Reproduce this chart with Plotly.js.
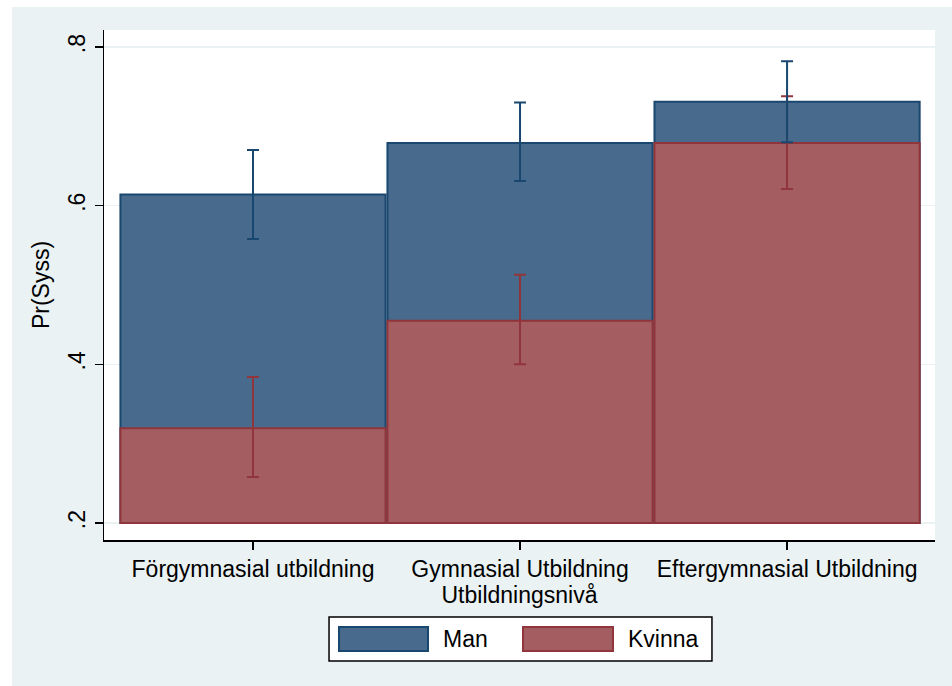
<!DOCTYPE html>
<html>
<head>
<meta charset="utf-8">
<script src="https://cdn.plot.ly/plotly-3.0.1.min.js"></script>
<style>
  html, body { margin: 0; padding: 0; background: #ffffff; }
  #chart { position: absolute; left: 12px; top: 7px; width: 940px; height: 679px; }
</style>
</head>
<body>
<div id="chart"></div>
<script>
// ---- data ----
const categories = ['Förgymnasial utbildning', 'Gymnasial Utbildning', 'Eftergymnasial Utbildning'];
const catPos = [1, 2, 3];
const manValues = [0.614, 0.679, 0.731];
const manLow = [0.558, 0.631, 0.680];
const manHigh = [0.670, 0.730, 0.782];
const kvinnaValues = [0.3195, 0.455, 0.679];
const kvinnaLow = [0.258, 0.400, 0.621];
const kvinnaHigh = [0.384, 0.513, 0.738];
const baseValue = 0.2;
const yTickVals = [0.2, 0.4, 0.6, 0.8];
const yTickText = ['.2', '.4', '.6', '.8'];
const seriesNames = ['Man', 'Kvinna'];

const navy = '#1a476f', navyFill = '#486a8c';
const maroon = '#90353b', maroonFill = '#a45e61';
const fontFam = '"Liberation Sans", Arial, sans-serif';
const fs = 23;

function barTrace(vals, name, fill, line) {
  return {
    type: 'bar', name: name, x: catPos,
    y: vals.map(v => v - baseValue), base: baseValue,
    width: 0.993,
    marker: { color: fill, line: { color: line, width: 2 } },
    hoverinfo: 'skip', showlegend: false
  };
}
function errTrace(vals, lo, hi, name, color) {
  return {
    type: 'scatter', mode: 'markers', name: name, x: catPos, y: vals,
    marker: { size: 1, opacity: 0 },
    error_y: {
      type: 'data', symmetric: false,
      array: hi.map((h, i) => h - vals[i]),
      arrayminus: lo.map((l, i) => vals[i] - l),
      color: color, thickness: 2, width: 6
    },
    hoverinfo: 'skip', showlegend: false
  };
}

const data = [
  barTrace(manValues, seriesNames[0], navyFill, navy),
  barTrace(kvinnaValues, seriesNames[1], maroonFill, maroon),
  errTrace(kvinnaValues, kvinnaLow, kvinnaHigh, seriesNames[1], maroon),
  errTrace(manValues, manLow, manHigh, seriesNames[0], navy)
];

// legend drawn with shapes (paper coords)
const legY0 = -0.2176, legY1 = -0.1706;
const layout = {
  width: 940, height: 679,
  margin: { l: 92, r: 17, t: 23, b: 146 },
  paper_bgcolor: '#eaf2f3', plot_bgcolor: '#ffffff',
  barmode: 'overlay',
  showlegend: false,
  font: { family: fontFam, size: fs, color: '#000000' },
  xaxis: {
    range: [0.442, 3.554], tickvals: catPos, ticktext: categories,
    ticks: 'outside', ticklen: 8, tickwidth: 1.5, tickcolor: '#000000',
    showline: true, linecolor: '#000000', linewidth: 1.5,
    showgrid: false, zeroline: false, fixedrange: true,
    tickfont: { family: fontFam, size: fs },
    title: { text: 'Utbildningsnivå', font: { family: fontFam, size: fs }, standoff: 0 }
  },
  yaxis: {
    range: [0.1786, 0.8214], tickvals: yTickVals, ticktext: yTickText,
    tickangle: -90,
    ticks: 'outside', ticklen: 8, tickwidth: 1.5, tickcolor: '#000000',
    showline: true, linecolor: '#000000', linewidth: 1.5,
    showgrid: true, gridcolor: '#eaf2f3', gridwidth: 1.5,
    zeroline: false, fixedrange: true,
    tickfont: { family: fontFam, size: fs },
    title: { text: 'Pr(Syss)', font: { family: fontFam, size: fs }, standoff: 8 }
  },
  shapes: [
    { type: 'rect', xref: 'paper', yref: 'paper', x0: 0.2708, x1: 0.7316, y0: -0.2373, y1: -0.151,
      fillcolor: '#ffffff', line: { color: '#000000', width: 1.5 } },
    { type: 'rect', xref: 'paper', yref: 'paper', x0: 0.2828, x1: 0.3899, y0: legY0, y1: legY1,
      fillcolor: navyFill, line: { color: navy, width: 2 } },
    { type: 'rect', xref: 'paper', yref: 'paper', x0: 0.5042, x1: 0.6125, y0: legY0, y1: legY1,
      fillcolor: maroonFill, line: { color: maroon, width: 2 } }
  ],
  annotations: [
    { xref: 'paper', yref: 'paper', x: 0.406, y: -0.194, xanchor: 'left', yanchor: 'middle',
      text: seriesNames[0], showarrow: false, font: { family: fontFam, size: fs } },
    { xref: 'paper', yref: 'paper', x: 0.6286, y: -0.194, xanchor: 'left', yanchor: 'middle',
      text: seriesNames[1], showarrow: false, font: { family: fontFam, size: fs } }
  ]
};

Plotly.newPlot('chart', data, layout, { displayModeBar: false, staticPlot: true });
</script>
</body>
</html>
